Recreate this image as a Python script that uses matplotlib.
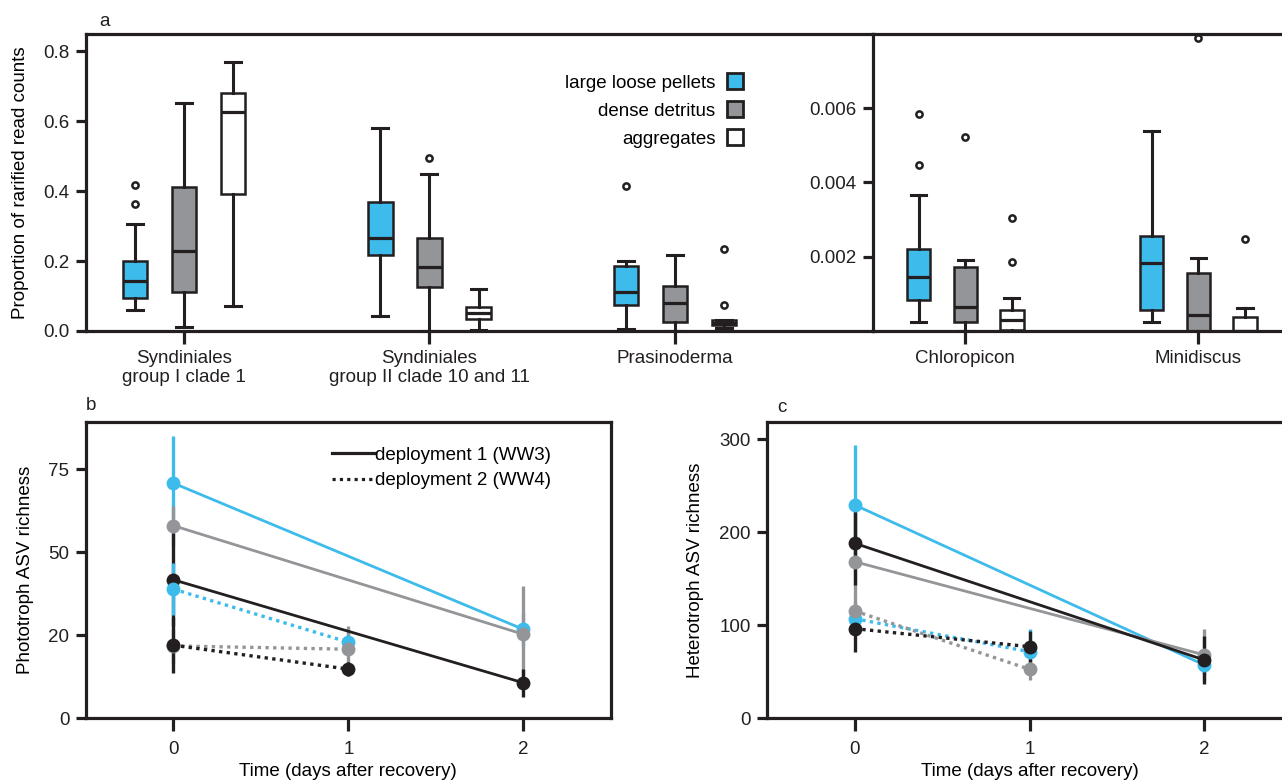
import matplotlib
matplotlib.use("Agg")
import matplotlib.pyplot as plt
from matplotlib.lines import Line2D

plt.rcParams['font.family'] = ['Liberation Sans', 'DejaVu Sans']
plt.rcParams['font.size'] = 13.5

# ---------------- data: panel a ----------------
categories_left = ["Syndiniales\ngroup I clade 1", "Syndiniales\ngroup II clade 10 and 11", "Prasinoderma"]
categories_right = ["Chloropicon", "Minidiscus"]
particle_types = ["large loose pellets", "dense detritus", "aggregates"]

# order of values: 3 left categories, then 2 right categories
pellets_whislo = [0.059, 0.043, 0.006, 0.000234, 0.000234]
pellets_q1 = [0.095, 0.217, 0.074, 0.000836, 0.000566]
pellets_med = [0.143, 0.266, 0.111, 0.001464, 0.001825]
pellets_q3 = [0.199, 0.370, 0.186, 0.002218, 0.002561]
pellets_whishi = [0.306, 0.581, 0.199, 0.003657, 0.005383]
pellets_fliers = [[0.363, 0.417], [], [0.415], [0.004466, 0.005849], []]

detritus_whislo = [0.011, 0.0, 0.0, 0.0, 0.0]
detritus_q1 = [0.111, 0.125, 0.025, 0.000234, 0.0]
detritus_med = [0.229, 0.183, 0.080, 0.000647, 0.000431]
detritus_q3 = [0.413, 0.266, 0.130, 0.001733, 0.001572]
detritus_whishi = [0.652, 0.449, 0.217, 0.001906, 0.001960]
detritus_fliers = [[], [0.495], [], [0.005221], [0.00789]]

aggregates_whislo = [0.072, 0.003, 0.009, 0.0, 0.0]
aggregates_q1 = [0.393, 0.034, 0.017, 0.00002, 0.0]
aggregates_med = [0.627, 0.051, 0.024, 0.000296, 0.0]
aggregates_q3 = [0.680, 0.070, 0.031, 0.000566, 0.000386]
aggregates_whishi = [0.770, 0.119, 0.031, 0.000881, 0.000612]
aggregates_fliers = [[], [], [0.075, 0.234], [0.001868, 0.003054], [0.002488]]

left_yticks = [0.0, 0.2, 0.4, 0.6, 0.8]
right_yticks = [0.002, 0.004, 0.006]

# ---------------- data: panels b and c ----------------
days_dep1 = [0, 2]
days_dep2 = [0, 1]
# phototroph richness (b); axis ticks placed at 0,25,50,75 labelled 0,20,50,75
b_dep1_pellets = [70.8, 26.8]; b_dep1_pellets_err = [14.2, 5.0]
b_dep1_detritus = [58.0, 25.3]; b_dep1_detritus_err = [6.0, 14.5]
b_dep1_aggregates = [41.7, 10.7]; b_dep1_aggregates_err = [14.0, 4.2]
b_dep2_pellets = [38.9, 22.9]; b_dep2_pellets_err = [7.8, 3.0]
b_dep2_detritus = [21.8, 20.8]; b_dep2_detritus_err = [5.0, 7.0]
b_dep2_aggregates = [22.0, 14.8]; b_dep2_aggregates_err = [8.4, 2.2]
b_tick_pos = [0, 25, 50, 75]
b_tick_labels = ["0", "20", "50", "75"]

# heterotroph richness (c)
c_dep1_pellets = [229.4, 57.3]; c_dep1_pellets_err = [64.5, 10.0]
c_dep1_detritus = [168.4, 68.1]; c_dep1_detritus_err = [52.0, 28.0]
c_dep1_aggregates = [188.2, 62.7]; c_dep1_aggregates_err = [45.0, 26.0]
c_dep2_pellets = [107.1, 71.6]; c_dep2_pellets_err = [10.0, 24.0]
c_dep2_detritus = [115.4, 52.7]; c_dep2_detritus_err = [10.0, 11.5]
c_dep2_aggregates = [96.4, 77.0]; c_dep2_aggregates_err = [24.7, 17.0]
c_tick_pos = [0, 100, 200, 300]

BLUE = '#3dbbeb'
GRAY = '#939598'
BLACK = '#231f20'
WHITE = '#ffffff'
type_colors = [BLUE, GRAY, WHITE]
line_colors = [BLUE, GRAY, BLACK]

FS = 13.5
W, H = 1282, 783
fig = plt.figure(figsize=(W / 100, H / 100), dpi=100)


def px_axes(x0, y0, x1, y1):
    return fig.add_axes([x0 / W, 1 - y1 / H, (x1 - x0) / W, (y1 - y0) / H])


SPINE_LW = 2.3


def style_axes(ax):
    for s in ax.spines.values():
        s.set_linewidth(SPINE_LW)
        s.set_color(BLACK)
    ax.tick_params(width=SPINE_LW, length=7, color=BLACK, labelcolor=BLACK,
                   labelsize=FS, pad=5)


# ---------------- panel a ----------------
axL = px_axes(86, 34, 873, 331)
axR = px_axes(873, 34, 1282, 331)

groups = [
    (pellets_whislo, pellets_q1, pellets_med, pellets_q3, pellets_whishi, pellets_fliers),
    (detritus_whislo, detritus_q1, detritus_med, detritus_q3, detritus_whishi, detritus_fliers),
    (aggregates_whislo, aggregates_q1, aggregates_med, aggregates_q3, aggregates_whishi, aggregates_fliers),
]
offsets = [-0.2, 0.0, 0.2]
left_positions = [1, 2, 3]
right_positions = [4, 5]

for ti, (wlo, q1, med, q3, whi, fl) in enumerate(groups):
    for ax, idxs, poss in [(axL, [0, 1, 2], left_positions), (axR, [3, 4], right_positions)]:
        stats = []
        for i in idxs:
            stats.append(dict(whislo=wlo[i], q1=q1[i], med=med[i], q3=q3[i],
                              whishi=whi[i], fliers=fl[i]))
        ax.bxp(stats, positions=[p + offsets[ti] for p in poss], widths=0.1,
               capwidths=0.065, patch_artist=True, showfliers=True,
               boxprops=dict(facecolor=type_colors[ti], edgecolor=BLACK, linewidth=1.8),
               medianprops=dict(color=BLACK, linewidth=2.3),
               whiskerprops=dict(color=BLACK, linewidth=2.2),
               capprops=dict(color=BLACK, linewidth=2.2),
               flierprops=dict(marker='o', markersize=4.5, markerfacecolor='white',
                               markeredgecolor=BLACK, markeredgewidth=1.8),
               manage_ticks=False)

axL.set_xlim(0.601, 3.807)
axL.set_ylim(0, 0.849)
axL.set_yticks(left_yticks)
axL.set_yticklabels([f"{v:.1f}" for v in left_yticks])
axL.set_xticks(left_positions)
axL.set_xticklabels(categories_left, linespacing=1.1)
axL.spines['right'].set_visible(False)
style_axes(axL)
axL.tick_params(axis='x', length=9)
axL.set_ylabel("Proportion of rarified read counts", fontsize=FS)
axL.yaxis.set_label_coords(-0.073, 0.5)

axR.set_xlim(3.604, 5.359)
axR.set_ylim(0, 0.008)
axR.set_yticks(right_yticks)
axR.set_yticklabels([f"{v:.3f}" for v in right_yticks])
axR.set_xticks(right_positions)
axR.set_xticklabels(categories_right)
axR.spines['right'].set_visible(False)
style_axes(axR)
axR.tick_params(axis='x', length=9)

leg_handles = [Line2D([], [], marker='s', linestyle='none', markersize=11.5,
                      markerfacecolor=c, markeredgecolor=BLACK, markeredgewidth=2)
               for c in type_colors]
axL.legend(leg_handles, particle_types, loc='upper right', markerfirst=False,
           frameon=False, fontsize=FS, handlelength=1.0, handletextpad=0.55,
           labelspacing=0.58, borderaxespad=0,
           bbox_to_anchor=((752 - 86) / 787, (331 - 67) / 297))

fig.text(105 / W, 1 - 21 / H, "a", fontsize=FS, ha='center', va='center', color=BLACK)

# ---------------- panels b and c ----------------
axB = px_axes(86, 421.7, 610.7, 718.3)
axC = px_axes(767.3, 421.7, 1291.8, 718.3)


def draw_richness(ax, dep1, dep2):
    # error bars first (order matters for overlaps), markers on top
    z = 2
    for (vals, errs), col in zip(dep1, line_colors):
        ax.errorbar(days_dep1, vals, yerr=errs, fmt='none', ecolor=col,
                    elinewidth=2.4, capsize=0, zorder=z)
        z += 0.1
    for (vals, errs), col in zip(dep2, line_colors):
        ax.errorbar(days_dep2, vals, yerr=errs, fmt='none', ecolor=col,
                    elinewidth=2.4, capsize=0, zorder=z)
        z += 0.1
    for (vals, errs), col in zip(dep1, line_colors):
        ax.plot(days_dep1, vals, color=col, linewidth=2.0, linestyle='-',
                marker='o', markersize=10, markeredgewidth=0, zorder=4)
    for (vals, errs), col in zip(dep2, line_colors):
        ax.plot(days_dep2, vals, color=col, linewidth=2.4, linestyle=(0, (1, 1.3)),
                marker='o', markersize=10, markeredgewidth=0, zorder=4)
    ax.set_xlim(-0.5, 2.5)
    ax.set_xticks([0, 1, 2])
    style_axes(ax)
    ax.tick_params(axis='x', length=9, pad=7)
    ax.set_xlabel("Time (days after recovery)", fontsize=FS)
    ax.xaxis.set_label_coords(0.5, -0.15)


b_dep1 = [(b_dep1_pellets, b_dep1_pellets_err), (b_dep1_detritus, b_dep1_detritus_err),
          (b_dep1_aggregates, b_dep1_aggregates_err)]
b_dep2 = [(b_dep2_pellets, b_dep2_pellets_err), (b_dep2_detritus, b_dep2_detritus_err),
          (b_dep2_aggregates, b_dep2_aggregates_err)]
draw_richness(axB, b_dep1, b_dep2)
axB.set_ylim(0, 89.3)
axB.set_yticks(b_tick_pos)
axB.set_yticklabels(b_tick_labels)
axB.set_ylabel("Phototroph ASV richness", fontsize=FS)
axB.yaxis.set_label_coords(-0.099, 0.5)

dep_handles = [Line2D([], [], color=BLACK, linewidth=2.3, linestyle='-'),
               Line2D([], [], color=BLACK, linewidth=2.3, linestyle=(0, (1, 1.3)))]
axB.legend(dep_handles, ["deployment 1 (WW3)", "deployment 2 (WW4)"], loc='upper left',
           frameon=False, fontsize=FS, handlelength=2.3, handletextpad=0.0,
           labelspacing=0.45, borderaxespad=0,
           bbox_to_anchor=((324 - 86) / 524.7, (718.3 - 439) / 296.6))

c_dep1 = [(c_dep1_pellets, c_dep1_pellets_err), (c_dep1_detritus, c_dep1_detritus_err),
          (c_dep1_aggregates, c_dep1_aggregates_err)]
c_dep2 = [(c_dep2_pellets, c_dep2_pellets_err), (c_dep2_detritus, c_dep2_detritus_err),
          (c_dep2_aggregates, c_dep2_aggregates_err)]
draw_richness(axC, c_dep1, c_dep2)
axC.set_ylim(0, 318.9)
axC.set_yticks(c_tick_pos)
axC.set_ylabel("Heterotroph ASV richness", fontsize=FS)
axC.yaxis.set_label_coords(-0.12, 0.5)

fig.text(91 / W, 1 - 406 / H, "b", fontsize=FS, ha='center', va='center', color=BLACK)
fig.text(782 / W, 1 - 407 / H, "c", fontsize=FS, ha='center', va='center', color=BLACK)

fig.savefig("out.png", dpi=100)
